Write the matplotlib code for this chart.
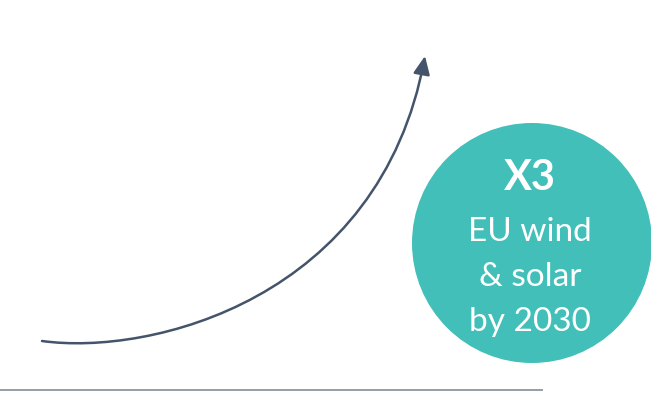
import matplotlib
matplotlib.use("Agg")
import matplotlib.pyplot as plt
from matplotlib.patches import Circle, FancyArrowPatch
from matplotlib.path import Path

# growth curve (bezier control points, pixel coords)
curve_x = [42, 150, 380, 425]
curve_y = [341, 356, 300, 56]

# badge
badge_title = "X3"
badge_lines = ["EU wind", "& solar", "by 2030"]

arrow_col = "#44546a"
teal = "#42bfb9"

fig = plt.figure(figsize=(6.51, 3.93), dpi=100)
ax = fig.add_axes([0, 0, 1, 1])
ax.set_xlim(0, 651)
ax.set_ylim(393, 0)
ax.axis("off")

# baseline
ax.plot([0, 543], [389.5, 389.5], color="#8a96a3", lw=1.3, solid_capstyle="butt")

verts = list(zip(curve_x, curve_y))
codes = [Path.MOVETO, Path.CURVE4, Path.CURVE4, Path.CURVE4]
arr = FancyArrowPatch(path=Path(verts, codes), arrowstyle="-|>,head_length=11,head_width=5",
                      color=arrow_col, lw=1.8, shrinkA=0, shrinkB=0)
ax.add_patch(arr)

ax.add_patch(Circle((532, 243), 120, color=teal, ec="none"))
ax.text(530, 178, badge_title, color="white", fontsize=30, fontweight="bold",
        ha="center", va="center", family="Lato")
for i, s in enumerate(badge_lines):
    ax.text(530, 232 + i * 45, s, color="white", fontsize=24,
            ha="center", va="center", family="Lato")

fig.savefig("out.png", dpi=100)
